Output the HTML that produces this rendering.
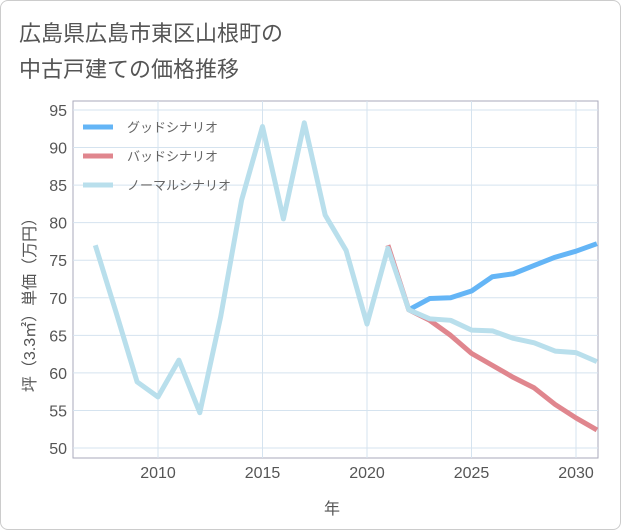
<!DOCTYPE html>
<html><head><meta charset="utf-8">
<style>
body{margin:0;background:#fff;}
#wrap{position:relative;width:619px;height:528px;border:1px solid #ccc;border-radius:8px;background:#fff;overflow:hidden;}
text{font-family:"Liberation Sans","Noto Sans CJK JP",sans-serif;}
</style></head><body>
<div id="wrap">
<svg id="c" width="621" height="530">
<text x="18" y="40" font-size="22" fill="#555">広島県広島市東区山根町の</text>
<text x="18" y="76" font-size="22" fill="#555">中古戸建ての価格推移</text>
<rect x="72" y="100" width="525" height="357" fill="none" stroke="#aab"/>
<g id="grid"></g><g id="lines"></g>
<text x="331" y="513" font-size="16" fill="#555" text-anchor="middle">年</text>
<text transform="translate(34,300) rotate(-90)" font-size="16" fill="#555" text-anchor="middle">坪（3.3㎡）単価（万円）</text>
<g>
<line x1="82" y1="126" x2="112" y2="126" stroke="#64b5f6" stroke-width="5"/>
<text x="126" y="131" font-size="13" fill="#666">グッドシナリオ</text>
<line x1="82" y1="155" x2="112" y2="155" stroke="#e0868e" stroke-width="5"/>
<text x="126" y="160" font-size="13" fill="#666">バッドシナリオ</text>
<line x1="82" y1="184" x2="112" y2="184" stroke="#b9dfec" stroke-width="5"/>
<text x="126" y="189" font-size="13" fill="#666">ノーマルシナリオ</text>
</g>
</svg></div>
<script>
const yTicks=[50,55,60,65,70,75,80,85,90,95];
const xTicks=[2010,2015,2020,2025,2030];
const normalYears=[2007,2008,2009,2010,2011,2012,2013,2014,2015,2016,2017,2018,2019,2020,2021,2022,2023,2024,2025,2026,2027,2028,2029,2030,2031];
const normalVals=[77,68,58.8,56.8,61.7,54.7,67.5,83,92.8,80.5,93.3,81,76.3,66.5,76.6,68.4,67.2,67,65.7,65.6,64.6,64,62.9,62.7,61.5];
const goodYears=[2022,2023,2024,2025,2026,2027,2028,2029,2030,2031];
const goodVals=[68.4,69.9,70,70.9,72.8,73.2,74.3,75.4,76.2,77.2];
const badYears=[2021,2022,2023,2024,2025,2026,2027,2028,2029,2030,2031];
const badVals=[77,68.4,67,65,62.6,61,59.4,58,55.8,54,52.4];
const NS='http://www.w3.org/2000/svg';
const X=y=>157+(y-2010)*20.9;
const Y=v=>447-(v-50)*(338/45);
const g=document.getElementById('grid'),L=document.getElementById('lines');
function mk(tag,at,p){const e=document.createElementNS(NS,tag);for(const k in at)e.setAttribute(k,at[k]);p.appendChild(e);return e;}
yTicks.forEach(v=>{
 const l=mk('line',{x1:72,x2:597,y1:Y(v),y2:Y(v),stroke:'#d5e3ef'},g);
 
 
 const t=mk('text',{x:66,y:Y(v)+6,'font-size':16,fill:'#555','text-anchor':'end'},g);t.textContent=v;
 
 
});
xTicks.forEach(v=>{
 const l=mk('line',{x1:X(v),x2:X(v),y1:100,y2:457,stroke:'#d5e3ef'},g);
 
 
 const t=mk('text',{x:X(v),y:477,'font-size':16,fill:'#555','text-anchor':'middle'},g);t.textContent=v;
 
 
});
function line(xs,vs,col,name){
 const p=mk('polyline',{points:xs.map((x,i)=>X(x)+','+Y(vs[i])).join(' '),fill:'none',stroke:col,'stroke-width':5,'stroke-linejoin':'round'},L);
 
 
}
line(badYears,badVals,'#e0868e','bad-scenario-line');
line(goodYears,goodVals,'#64b5f6','good-scenario-line');
line(normalYears,normalVals,'#b9dfec','normal-scenario-line');
</script>
</body></html>
